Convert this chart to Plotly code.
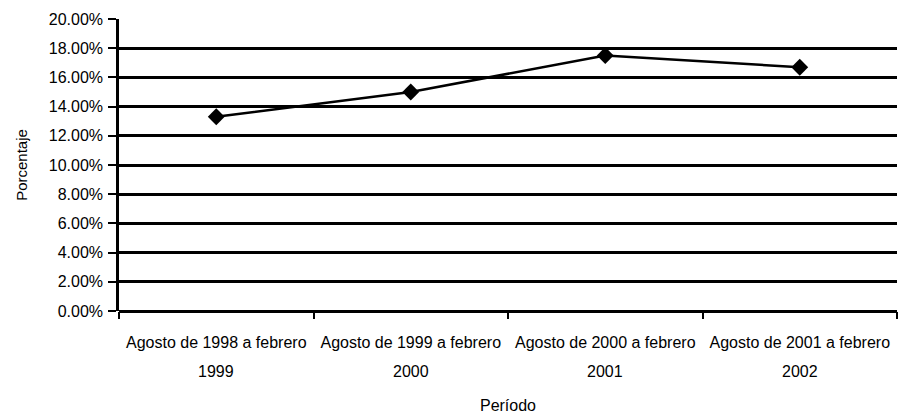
import plotly.graph_objects as go

periodos = ["Agosto de 1998 a febrero", "Agosto de 1999 a febrero",
            "Agosto de 2000 a febrero", "Agosto de 2001 a febrero"]
anios = ["1999", "2000", "2001", "2002"]
porcentajes = [0.133, 0.150, 0.175, 0.167]
y_ticks = [0.0, 0.02, 0.04, 0.06, 0.08, 0.10, 0.12, 0.14, 0.16, 0.18, 0.20]

FONT = "Liberation Sans"

fig = go.Figure()
fig.add_trace(go.Scatter(
    x=periodos, y=porcentajes, mode="lines+markers",
    line=dict(color="black", width=2.5),
    marker=dict(symbol="diamond", size=13, color="black"),
    showlegend=False, cliponaxis=False,
))

for p, a in zip(periodos, anios):
    fig.add_annotation(x=p, y=0, xref="x", yref="y", text=a, showarrow=False,
                       yanchor="top", yshift=-50,
                       font=dict(family=FONT, size=16, color="black"))

fig.update_layout(
    width=898, height=417,
    margin=dict(l=119, r=1, t=19, b=106),
    paper_bgcolor="white", plot_bgcolor="white",
    font=dict(family=FONT, size=16, color="black"),
    xaxis=dict(
        type="category", tickson="boundaries", ticks="outside", ticklen=7,
        tickwidth=2, tickcolor="black", showgrid=False, showline=False,
        zeroline=False, tickfont=dict(size=16), ticklabelstandoff=20,
        automargin=False, range=[-0.5, 3.5],
        title=dict(text="Período", font=dict(size=16), standoff=49),
    ),
    yaxis=dict(
        range=[0, 0.2], tickvals=y_ticks, tickformat=".2%",
        showgrid=True, gridcolor="black", gridwidth=2.5,
        showline=True, linecolor="black", linewidth=2.5,
        ticks="outside", ticklen=8, tickwidth=2, tickcolor="black",
        zeroline=True, zerolinecolor="black", zerolinewidth=3,
        tickfont=dict(size=16), ticklabelstandoff=2, automargin=False,
        title=dict(text="Porcentaje", font=dict(size=15), standoff=18),
    ),
)

fig.write_html("out.html", config={"displayModeBar": False},
               post_script="document.body.style.margin='0';")
